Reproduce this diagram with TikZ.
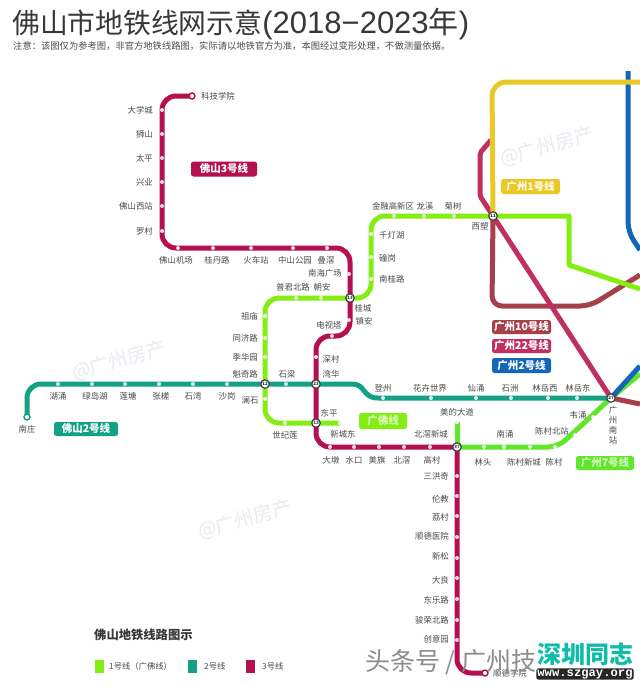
\documentclass[tikz,border=0pt]{standalone}
\usepackage{fontspec}
\setmainfont{Noto Sans CJK SC}
\newfontfamily\latinf{Liberation Sans}
\newfontfamily\monof{Liberation Mono}
\definecolor{cF3}{HTML}{B40F4E}
\definecolor{cF2}{HTML}{12A182}
\definecolor{cF1}{HTML}{84EE14}
\definecolor{cG7}{HTML}{62E62A}
\definecolor{cG1}{HTML}{E8C926}
\definecolor{cG2}{HTML}{1466B8}
\definecolor{cG22}{HTML}{C02F60}
\definecolor{cG10}{HTML}{A53F4A}
\definecolor{txt}{HTML}{4A4A4A}
\definecolor{wm}{HTML}{E9EBF1}
\tikzset{
  metro/.style={line width=5pt,rounded corners=#1,line join=round},
  metro/.default=10pt,
  sta/.style={circle,fill=white,draw=none,inner sep=0pt,minimum size=4pt,opacity=.85},
  term/.style={circle,fill=white,draw=#1,line width=1.4pt,inner sep=0pt,minimum size=6pt},
  hub/.style={circle,fill=white,draw=black!75,line width=1.2pt,inner sep=0pt,minimum size=8.5pt,font=\fontsize{4.5}{5}\selectfont\bfseries,text=black!80},
  lab/.style={text=txt,inner sep=0pt,font=\fontsize{8.4}{9}\selectfont},
  badge/.style={rounded corners=2.5pt,inner sep=0pt,text=white,font=\fontsize{10.5}{11}\selectfont\bfseries},
  wmark/.style={text=wm,rotate=15,inner sep=0pt,font=\fontsize{19.5}{20}\selectfont},
  swatch/.style={inner sep=0pt,minimum width=9pt,minimum height=13pt},
  legtxt/.style={text=txt,inner sep=0pt,anchor=west,font=\fontsize{8.3}{10}\selectfont},
}
\begin{document}
\begin{tikzpicture}[x=1pt,y=-1pt]
\useasboundingbox (0,0) rectangle (640,686);
\fill[white] (0,0) rectangle (640,686);
% watermarks
\node[wmark] (wm1) at (119,361) {@广州房产};
\node[wmark] (wm2) at (547,147) {@广州房产};
\node[wmark] (wm3) at (245,520) {@广州房产};
% title
\node[anchor=west,inner sep=0pt,text=black!78,font=\fontsize{27.8}{32}\selectfont] (title) at (12,24) {佛山市地铁线网示意{\latinf\fontsize{31}{32}\selectfont(2018−2023}{\fontsize{30}{32}\selectfont 年}{\latinf\fontsize{31}{32}\selectfont)}};
\node[anchor=west,inner sep=0pt,text=txt,font=\fontsize{9.3}{10}\selectfont] (note) at (13,46) {注意^^^^ff1a该图仅为参考图^^^^ff0c非官方地铁线路图^^^^ff0c实际请以地铁官方为准^^^^ff0c本图经过变形处理^^^^ff0c不做测量依据。};
% hubs coordinates
\coordinate (hA) at (350,298);
\coordinate (hB) at (493,216);
\coordinate (hC) at (265,384);
\coordinate (hD) at (316,384);
\coordinate (hE) at (316,423);
\coordinate (hF) at (457,447);
\coordinate (hG) at (611,398);
% Guangzhou lines
\draw[metro,color=cG2] (628,71) -- (628,232) -- (640,250);
\draw[metro,color=cG7,rounded corners=0pt] (hG) -- (640,374);
\draw[metro,color=cG2,rounded corners=0pt] (hG) -- (640,366);
\draw[metro,color=cG10] (hB) -- (492,306) -- (590,306) -- (640,275);
\draw[metro,color=cG10,rounded corners=0pt] (hG) -- (640,404);
\draw[metro=2pt,color=cG22] (491,140) -- (480,153) -- (480,196) -- (hB) -- (hG);
\draw[metro=14pt,color=cG1] (hB) -- (492,82) -- (640,82);
\draw[metro,color=cG7,rounded corners=0pt] (457,421) -- (hF);
\draw[metro,color=cG7] (hF) -- (558,447) -- (hG);
% Foshan lines
\draw[metro=14pt,color=cF1] (341,423) -- (265,423) -- (265,298) -- (371,298) -- (371,216) [sharp corners] -- (569,216) -- (569,265) -- (640,289);
\draw[metro=14pt,color=cF2] (27,417) -- (27,384) [sharp corners] -- (352,384) .. controls (366,384) and (362,398) .. (378,398) -- (hG);
\draw[metro=14pt,color=cF3] (192,96) -- (162,96) -- (162,248) -- (350,248) -- (350,336) -- (316,336) -- (316,447) [sharp corners] -- (hF);
\draw[metro=14pt,color=cF3] (hF) -- (457,673) -- (485,673);
% stations line 3
\foreach \p in {(162,110),(162,134),(162,158),(162,182),(162,206),(162,231),(178,248),(213,248),(251,248),(293,248),(327,248),(349,274),(349,320),(332,336),(316,357),(330,447),(354,447),(379,447),(404,447),(430,447),(457,476),(457,496),(457,516),(457,537),(457,558),(457,578),(457,599),(457,620),(457,640)}
  \node[sta] at \p {};
% stations line 2
\foreach \p in {(58,384),(92,384),(125,384),(159,384),(193,384),(227,384),(286,384),(383,398),(431,398),(476,398),(511,398),(548,398),(577,398)}
  \node[sta] at \p {};
% stations line 1 and 7
\foreach \p in {(265,316),(265,338),(265,357),(265,399),(285,423),(296,298),(321,298),(371,234),(371,257),(371,279),(394,216),(424,216),(454,216),(484,447),(504,447),(530,447),(555,447),(575,435),(593,417)}
  \node[sta] at \p {};
\node[term=cF3] (t1) at (192,96) {};
\node[term=cF3] (t2) at (485,673) {};
\node[term=cF2] (t3) at (27,417) {};
\node[sta,minimum size=6pt,fill=white] (t4) at (341,423) {};
\node[sta,minimum size=6pt] (t5) at (457,421) {};
% hubs
\node[hub] at (hA) {13};
\node[hub] at (hB) {11};
\node[hub] at (hC) {12};
\node[hub] at (hD) {23};
\node[hub] at (hE) {13};
\node[hub] at (hF) {37};
\node[hub] at (hG) {27};
% labels
\foreach \t/\x/\y in {佛山机场/176/260,桂丹路/217/260,火车站/256/260,中山公园/295/260,叠滘/326/260,普君北路/293/287,朝安/322/287,桂城/363/308,镇安/364/321,电视塔/329/325,深村/331/359,湾华/331/374,石梁/287/374,南庄/27/429,湖涌/58/396,绿岛湖/95/396,莲塘/128/396,张槎/161/396,石湾/193/396,沙岗/227/396,世纪莲/285/435,澜石/250/400,登州/383/388,花卉世界/430/388,仙涌/476/388,石洲/510/388,林岳西/545/388,林岳东/578/388,东平/329/413,新城东/343/434,美的大道/457/412,北滘新城/431/434,南涌/505/434,陈村北站/552/431,韦涌/578/415,陈村/554/462,陈村新城/524/462,林头/483/462,大墩/331/460,水口/354/460,美旗/377/460,北滘/402/460,高村/432/460,金融高新区/393/206,龙溪/425/206,菊树/453/206,西塑/480/226}
  \node[lab] at (\x,\y) {\t};
\foreach \t/\y in {大学城/110,狮山/134,太平/158,兴业/182,佛山西站/206,罗村/231}
  \node[lab,anchor=east] at (153,\y) {\t};
\foreach \t/\y in {祖庙/316,同济路/338,季华园/357,魁奇路/374}
  \node[lab,anchor=east] at (258,\y) {\t};
\foreach \t/\y in {三洪奇/476,伦教/499,荔村/517,顺德医院/536,新松/556,大良/580,东乐路/600,骏荣北路/620,创意园/639}
  \node[lab,anchor=east] at (449,\y) {\t};
\foreach \t/\y in {千灯湖/235,䃥岗/258,南桂路/279}
  \node[lab,anchor=west] at (379,\y) {\t};
\node[lab,anchor=west] at (201,96) {科技学院};
\node[lab,anchor=east] at (342,273) {南海广场};
\node[lab,anchor=west] at (493,673) {顺德学院};
\foreach \t/\y in {广/410,州/420,南/430,站/440}
  \node[lab] at (613,\y) {\t};
% badges
\node[badge,fill=cF3,minimum width=66pt,minimum height=15pt] (b1) at (224,169) {佛山3号线};
\node[badge,fill=cG1,minimum width=59pt,minimum height=15pt,text=white!90!cG1] (b2) at (530.5,186.5) {广州1号线};
\node[badge,fill=cG10,minimum width=59pt,minimum height=14pt] (b3) at (521.5,327) {广州10号线};
\node[badge,fill=cG22,minimum width=59pt,minimum height=14pt] (b4) at (521.5,346) {广州22号线};
\node[badge,fill=cG2,minimum width=59pt,minimum height=15pt] (b5) at (521.5,365.5) {广州2号线};
\node[badge,fill=cF2,minimum width=64pt,minimum height=14pt] (b6) at (86,429) {佛山2号线};
\node[badge,fill=cF1,minimum width=48pt,minimum height=16pt,text=white!70!cF1] (b7) at (383,421) {广佛线};
\node[badge,fill=cG7,minimum width=58pt,minimum height=14pt,text=white!70!cG7] (b8) at (605,463) {广州7号线};
% legend
\node[anchor=west,inner sep=0pt,text=black!78,font=\fontsize{12.3}{13}\selectfont\bfseries] (legt) at (94,635) {佛山地铁线路图示};
\node[swatch,fill=cF1] (s1) at (99,666) {};
\node[swatch,fill=cF2] (s2) at (192,666) {};
\node[swatch,fill=cF3] (s3) at (250,666) {};
\node[legtxt] at (109,666) {1号线^^^^ff08广佛线^^^^ff09};
\node[legtxt] at (204,666) {2号线};
\node[legtxt] at (262,666) {3号线};
% bottom watermark
\node[anchor=west,inner sep=0pt,text=black!45,font=\fontsize{25}{27}\selectfont] (wb) at (365,662) {头条号 / 广州技};
\node[anchor=center,inner sep=0pt,text=cF2!70!cyan,font=\fontsize{24}{25}\selectfont\bfseries] (sz) at (585,654) {深圳同志};
\node[anchor=center,inner xsep=1pt,inner ysep=1pt,fill=black!85,text=white,rounded corners=1.5pt,font=\monof\fontsize{12.2}{12.5}\selectfont\bfseries] (url) at (585,674) {www.szgay.org};
\end{tikzpicture}
\end{document}
